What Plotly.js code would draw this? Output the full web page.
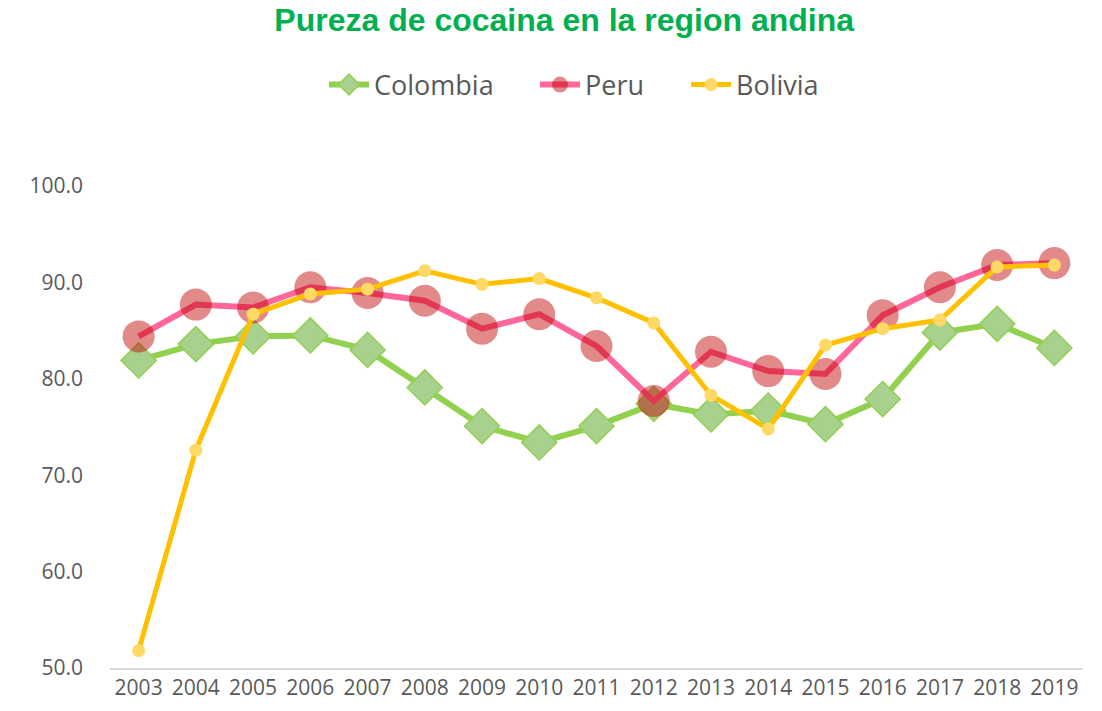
<!DOCTYPE html>
<html>
<head>
<meta charset="utf-8">
<script src="https://cdn.plot.ly/plotly-3.0.1.min.js"></script>
<style>html,body{margin:0;padding:0;background:#fff;}#chart{width:1102px;height:711px;}</style>
</head>
<body>
<div id="chart"></div>
<script>
const years = ["2003","2004","2005","2006","2007","2008","2009","2010","2011","2012","2013","2014","2015","2016","2017","2018","2019"];
const colombia = [81.9, 83.6, 84.4, 84.5, 83.0, 79.1, 75.1, 73.4, 75.1, 77.4, 76.3, 76.7, 75.3, 77.9, 84.8, 85.7, 83.2];
const peru     = [84.4, 87.7, 87.4, 89.5, 88.9, 88.1, 85.2, 86.7, 83.4, 77.7, 82.8, 80.8, 80.5, 86.6, 89.5, 91.8, 92.0];
const bolivia  = [51.8, 72.6, 86.7, 88.8, 89.3, 91.2, 89.8, 90.4, 88.4, 85.8, 78.3, 74.8, 83.5, 85.2, 86.1, 91.6, 91.8];
const yTicks = [50, 60, 70, 80, 90, 100];

const traces = [
  {x: years, y: colombia, name: "Colombia", type: "scatter", mode: "lines+markers", legend: "legend",
   line: {color: "#92D050", width: 6},
   marker: {symbol: "diamond", size: 27, color: "#A9D18E", line: {color: "#92D050", width: 1.5}}},
  {x: years, y: peru, name: "Peru", type: "scatter", mode: "lines+markers", legend: "legend2",
   line: {color: "#FF6699", width: 6},
   marker: {symbol: "circle", size: 32, color: "rgba(192,0,0,0.46)", line: {width: 0}}},
  {x: years, y: bolivia, name: "Bolivia", type: "scatter", mode: "lines+markers", legend: "legend3",
   line: {color: "#FFC000", width: 5},
   marker: {symbol: "circle", size: 13, color: "#FFD966", line: {width: 0}}}
];

function leg(xpx) {
  return {orientation: "h", x: xpx / 1102, xref: "container", xanchor: "left",
          y: 1 - 85/711, yref: "container", yanchor: "middle",
          font: {family: "Open Sans, sans-serif", size: 27, color: "#595959"},
          itemwidth: 40, bgcolor: "rgba(0,0,0,0)"};
}

const layout = {
  width: 1102, height: 711,
  paper_bgcolor: "#fff", plot_bgcolor: "#fff",
  margin: {l: 110, r: 19, t: 186, b: 43, autoexpand: false},
  title: {text: "<b>Pureza de cocaina en la region andina</b>",
          font: {family: "Liberation Sans, Arial, sans-serif", size: 32, color: "#00B050"},
          x: 0.512, xanchor: "center", y: 1 - 20/711, yanchor: "middle", xref: "container", yref: "container"},
  showlegend: true,
  legend: leg(324),
  legend2: leg(535),
  legend3: leg(686),
  xaxis: {type: "category", range: [-0.5, 16.5], showgrid: false, zeroline: false,
          showline: true, linecolor: "#D9D9D9", linewidth: 1.5, ticks: "",
          tickfont: {family: "Open Sans, sans-serif", size: 21, color: "#595959"}},
  yaxis: {range: [50, 100], tickvals: yTicks, tickformat: ".1f", showgrid: false, zeroline: false,
          showline: false, ticks: "", ticklabelstandoff: 26,
          tickfont: {family: "Open Sans, sans-serif", size: 21, color: "#595959"}}
};

Plotly.newPlot("chart", traces, layout, {displayModeBar: false, staticPlot: true});
</script>
</body>
</html>
